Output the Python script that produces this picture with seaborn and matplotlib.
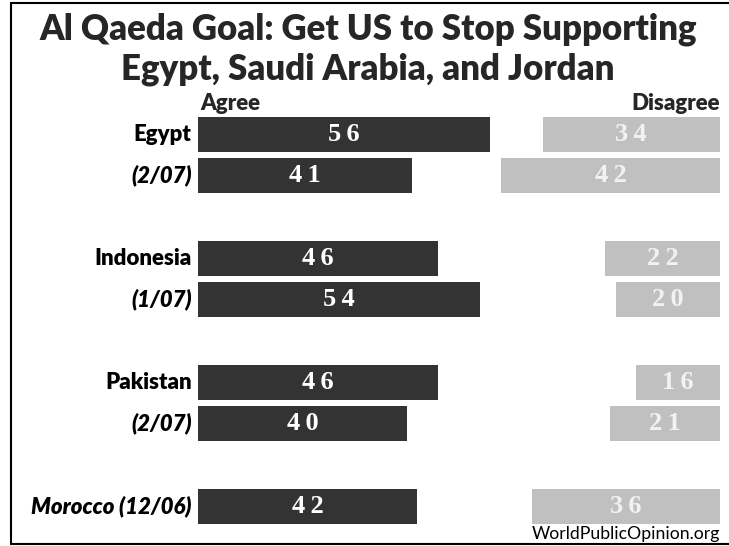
import matplotlib
matplotlib.use("Agg")
import matplotlib.pyplot as plt
import seaborn as sns
import pandas as pd
from matplotlib.lines import Line2D

# ---- data ----
labels = ["Egypt", "(2/07)", "Indonesia", "(1/07)", "Pakistan", "(2/07)", "Morocco (12/06)"]
label_italic = [False, True, False, True, False, True, True]
agree = [56, 41, 46, 54, 46, 40, 42]
disagree = [34, 42, 22, 20, 16, 21, 36]
title = "Al Qaeda Goal: Get US to Stop Supporting\nEgypt, Saudi Arabia, and Jordan"
source = "WorldPublicOpinion.org"

# layout (row slots with gaps between groups)
slots = [0, 1, 3, 4, 6, 7, 9]

sns.set_theme(style="white")
plt.rcParams["font.family"] = ["Lato", "DejaVu Sans"]

W, H = 729, 546
fig = plt.figure(figsize=(W / 100, H / 100), dpi=100)
fig.patch.set_facecolor("white")

left_px, right_px = 198, 720
top_px, bottom_px = 109.7, 531.0
ax = fig.add_axes([left_px / W, 1 - bottom_px / H, (right_px - left_px) / W, (bottom_px - top_px) / H])

df = pd.DataFrame({"slot": slots, "agree": agree, "disagree": disagree})

sns.barplot(data=df, x="agree", y="slot", orient="y", native_scale=True,
            color="#333333", saturation=1, width=0.85, ax=ax, linewidth=0)
ax.set_xlim(0, 100)

ax2 = ax.twiny()
sns.barplot(data=df, x="disagree", y="slot", orient="y", native_scale=True,
            color="#c0c0c0", saturation=1, width=0.85, ax=ax2, linewidth=0)
ax2.set_xlim(100, 0)

for a in (ax, ax2):
    a.set_ylim(9.6, -0.6)
    a.set_xlabel("")
    a.set_ylabel("")
    a.set_xticks([])
    for s in a.spines.values():
        s.set_visible(False)
    a.set_facecolor("none")

ax.set_yticks(slots)
ax.set_yticklabels([])
ax.tick_params(axis="y", length=0)
ax2.tick_params(axis="y", length=0)

# category labels
for s, lab, it in zip(slots, labels, label_italic):
    ax.text(-0.012, s, lab, transform=ax.get_yaxis_transform(), ha="right", va="center",
            fontsize=16, fontweight="heavy", fontstyle="italic" if it else "normal",
            color="black", family=["Lato", "DejaVu Sans"])

# value labels (slightly tracked digits)
vfont = ["Liberation Serif", "DejaVu Serif"]
def tracked(v):
    return "\u2009".join(str(v))
for s, a_val, d_val in zip(slots, agree, disagree):
    ax.text(a_val / 2, s, tracked(a_val), ha="center", va="center",
            fontsize=19, fontweight="bold", color="white", family=vfont)
    ax2.text(d_val / 2, s, tracked(d_val), ha="center", va="center",
             fontsize=19, fontweight="bold", color="#f2f2f2", family=vfont)

# headers
fig.text(200 / W, 1 - 103 / H, "Agree", ha="left", va="center", fontsize=16, fontweight="heavy")
fig.text(720 / W, 1 - 103 / H, "Disagree", ha="right", va="center", fontsize=16, fontweight="heavy")

# title
fig.text(368 / W, 1 - 49 / H, title, ha="center", va="center", fontsize=25, fontweight="heavy",
         linespacing=1.25)

# source
fig.text(720 / W, 1 - 534 / H, source, ha="right", va="center", fontsize=12.7, color="black")

# border lines (left, top, bottom)
fig.add_artist(Line2D([11 / W, 11 / W], [1 - 3 / H, 1 - 544 / H], transform=fig.transFigure, color="black", lw=1.5))
fig.add_artist(Line2D([11 / W, 1], [1 - 3 / H, 1 - 3 / H], transform=fig.transFigure, color="black", lw=1.5))
fig.add_artist(Line2D([11 / W, 1], [1 - 544 / H, 1 - 544 / H], transform=fig.transFigure, color="black", lw=1.5))

fig.savefig("out.png", dpi=100, facecolor="white")
